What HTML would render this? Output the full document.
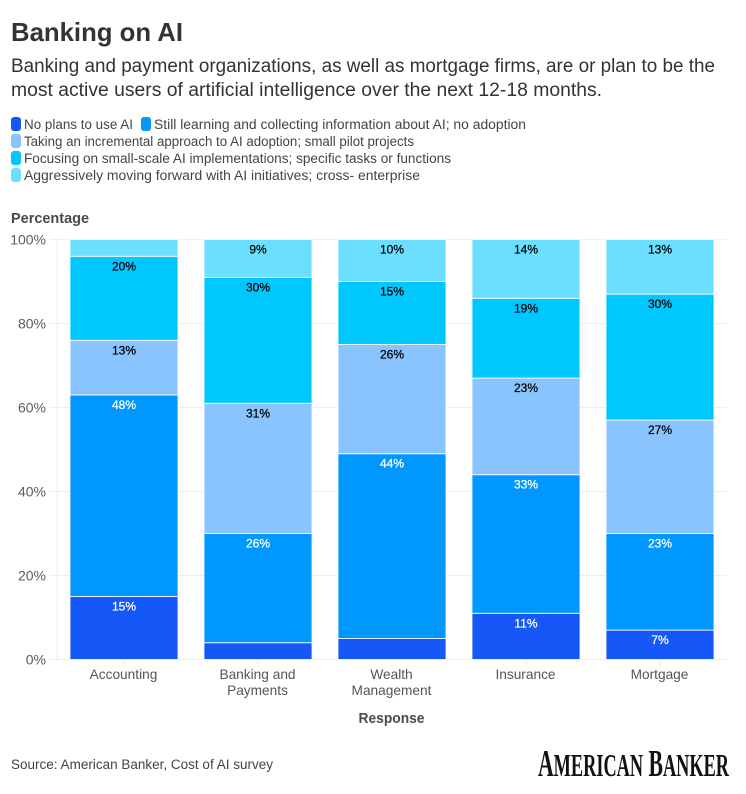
<!DOCTYPE html>
<html lang="en">
<head>
<meta charset="utf-8">
<title>Banking on AI</title>
<style>
html,body{margin:0;padding:0;background:#fff;width:746px;height:794px;overflow:hidden}
svg{display:block;font-family:"Liberation Sans",sans-serif}
</style>
</head>
<body>
<svg id="chart" width="746" height="794" viewBox="0 0 746 794" xmlns="http://www.w3.org/2000/svg">
  <text x="11" y="41" font-size="26" font-weight="700" fill="#333" textLength="172" lengthAdjust="spacingAndGlyphs">Banking on AI</text>
  <text x="11" y="72" font-size="19" fill="#333" textLength="704" lengthAdjust="spacingAndGlyphs">Banking and payment organizations, as well as mortgage firms, are or plan to be the</text>
  <text x="11" y="96" font-size="19" fill="#333" textLength="591" lengthAdjust="spacingAndGlyphs">most active users of artificial intelligence over the next 12-18 months.</text>

  <g font-size="13.500" fill="#444">
    <g>
      <rect x="11" y="117" width="10" height="14" rx="3" fill="#1558f7"/>
      <text x="24" y="129" textLength="109" lengthAdjust="spacingAndGlyphs">No plans to use AI</text>
    </g>
    <g>
      <rect x="141" y="117" width="10" height="14" rx="3" fill="#0098ff"/>
      <text x="154" y="129" textLength="372" lengthAdjust="spacingAndGlyphs">Still learning and collecting information about AI; no adoption</text>
    </g>
    <g>
      <rect x="11" y="134" width="10" height="14" rx="3" fill="#8ac4ff"/>
      <text x="24" y="146" textLength="390" lengthAdjust="spacingAndGlyphs">Taking an incremental approach to AI adoption; small pilot projects</text>
    </g>
    <g>
      <rect x="11" y="151" width="10" height="14" rx="3" fill="#00c8ff"/>
      <text x="24" y="163" textLength="427" lengthAdjust="spacingAndGlyphs">Focusing on small-scale AI implementations; specific tasks or functions</text>
    </g>
    <g>
      <rect x="11" y="168" width="10" height="14" rx="3" fill="#6adfff"/>
      <text x="24" y="180" textLength="396" lengthAdjust="spacingAndGlyphs">Aggressively moving forward with AI initiatives; cross- enterprise</text>
    </g>
  </g>

  <text x="11" y="223" font-size="14.500" font-weight="700" fill="#4a4a4a" textLength="78" lengthAdjust="spacingAndGlyphs">Percentage</text>
  <g id="plot"></g>
  <text x="391.500" y="723" text-anchor="middle" font-size="14.500" font-weight="700" fill="#4a4a4a" textLength="66" lengthAdjust="spacingAndGlyphs">Response</text>

  <text x="11" y="769" font-size="13.500" fill="#444" textLength="262" lengthAdjust="spacingAndGlyphs">Source: American Banker, Cost of AI survey</text>
  <text x="538" y="776" font-family="'Liberation Serif',serif" font-weight="700" font-size="38" fill="#111" textLength="191" lengthAdjust="spacingAndGlyphs">A<tspan font-size="32">MERICAN</tspan> B<tspan font-size="32">ANKER</tspan></text>
</svg>
<script>
var categories = [["Accounting"], ["Banking and", "Payments"], ["Wealth", "Management"], ["Insurance"], ["Mortgage"]];
var noPlans = [15, 4, 5, 11, 7];
var stillLearning = [48, 26, 44, 33, 23];
var incremental = [13, 31, 26, 23, 27];
var smallScale = [20, 30, 15, 19, 30];
var aggressive = [4, 9, 10, 14, 13];
var yTicks = [0, 20, 40, 60, 80, 100];

var seriesValues = [noPlans, stillLearning, incremental, smallScale, aggressive];
var seriesNames = ['no-plans', 'still-learning', 'incremental', 'small-scale', 'aggressive'];
var seriesColors = ['#1558f7', '#0098ff', '#8ac4ff', '#00c8ff', '#6adfff'];
var labelColors = ['#fff', '#fff', '#000', '#000', '#000'];

var NS = 'http://www.w3.org/2000/svg';
var plot = document.getElementById('plot');
var plotLeft = 57, plotRight = 727, plotTop = 239.5, plotBottom = 659.5;
var band = (plotRight - plotLeft) / categories.length;
var barWidth = 108;

function yScale(v) { return plotBottom - (v / 100) * (plotBottom - plotTop); }
function xCenter(i) { return plotLeft + band * (i + 0.5); }
function make(tag, attrs, parent) {
  var el = document.createElementNS(NS, tag);
  for (var k in attrs) el.setAttribute(k, attrs[k]);
  parent.appendChild(el);
  return el;
}

yTicks.forEach(function (t) {
  var y = yScale(t);
  var line = make('line', { x1: 50, x2: plotRight, y1: y, y2: y, stroke: '#eeeef1', 'stroke-width': 1 }, plot);
  
  
  var label = make('text', { x: 46, y: y + 5, 'text-anchor': 'end', 'font-size': 14, fill: '#5c5c5c' }, plot);
  
  
  label.textContent = t + '%';
});

var yAxisLine = make('line', { x1: plotLeft, x2: plotLeft, y1: plotTop, y2: plotBottom, stroke: '#eeeef1', 'stroke-width': 1 }, plot);



categories.forEach(function (lines, i) {
  var cx = xCenter(i);
  var tick = make('line', { x1: cx, x2: cx, y1: plotBottom, y2: plotBottom + 7, stroke: '#eeeef1', 'stroke-width': 1 }, plot);
  
  
  var cumulative = 0;
  seriesValues.forEach(function (values, s) {
    var v = values[i];
    var yTop = yScale(cumulative + v);
    var yBottom = yScale(cumulative);
    var bar = make('rect', { x: cx - barWidth / 2, y: yTop, width: barWidth, height: yBottom - yTop, fill: seriesColors[s], stroke: '#fff', 'stroke-opacity': 0.8, 'stroke-width': 1 }, plot);
    
    
    if (v >= 7) {
      var vl = make('text', { x: cx, y: yTop + 14, 'text-anchor': 'middle', 'font-size': 12, 'font-weight': 400, fill: labelColors[s], stroke: labelColors[s], 'stroke-width': 0.25 }, plot);
      
      
      vl.textContent = v + '%';
    }
    cumulative += v;
  });
  lines.forEach(function (line, n) {
    var cl = make('text', { x: cx - 0.5, y: plotBottom + 19.5 + n * 16, 'text-anchor': 'middle', 'font-size': 13.7, fill: '#555' }, plot);
    
    
    cl.textContent = line;
  });
});
</script>
</body>
</html>
